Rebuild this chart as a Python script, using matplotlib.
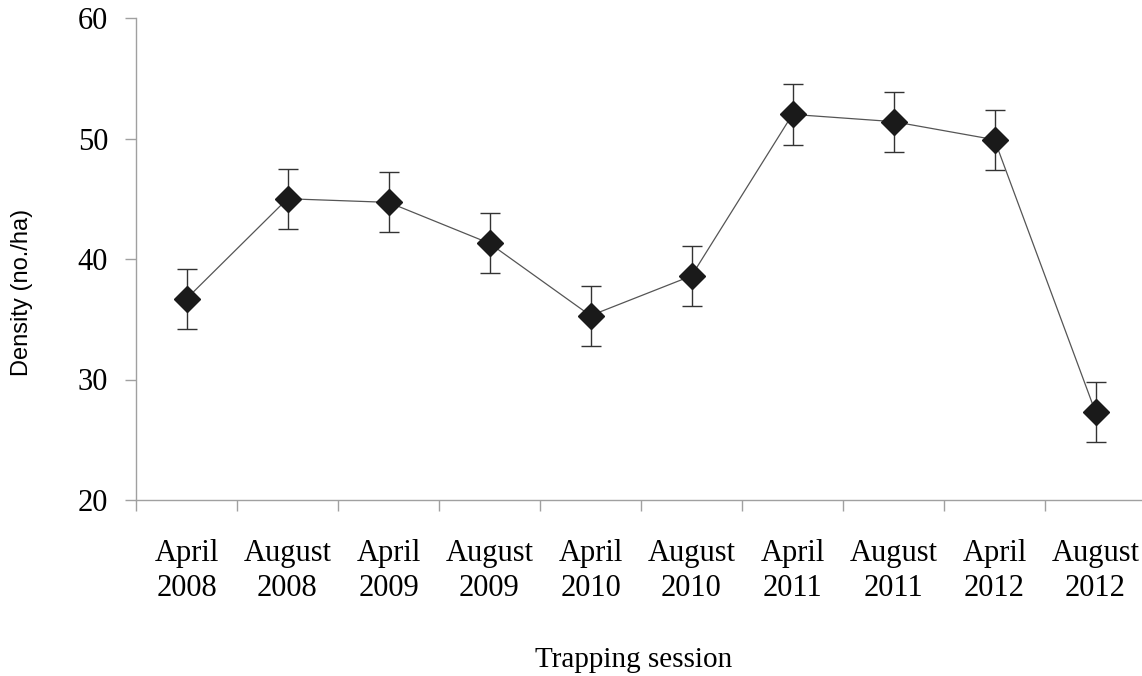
import matplotlib
matplotlib.use("Agg")
from matplotlib import pyplot as plt
import numpy as np

sessions = ["April\n2008", "August\n2008", "April\n2009", "August\n2009", "April\n2010",
            "August\n2010", "April\n2011", "August\n2011", "April\n2012", "August\n2012"]
density = [36.7, 45.0, 44.7, 41.3, 35.3, 38.6, 52.0, 51.4, 49.9, 27.3]
err = [2.5, 2.5, 2.5, 2.5, 2.5, 2.5, 2.5, 2.5, 2.5, 2.5]

fig = plt.figure(figsize=(11.42, 6.76), dpi=100)
ax = fig.add_axes([136/1142, 176/676, 1010/1142, 482/676])

x = np.arange(len(sessions))
ax.errorbar(x, density, yerr=err, fmt="none", ecolor="#333333", elinewidth=1,
            capsize=7, capthick=1)
ax.plot(x, density, color="#555555", lw=0.9)
ax.plot(x, density, ls="none", marker="D", ms=13, color="#1a1a1a")

ax.set_xlim(-0.5, len(sessions) - 0.5)
ax.set_ylim(20, 60)
ax.set_yticks([20, 30, 40, 50, 60])
ax.set_xticks(np.arange(len(sessions) + 1) - 0.5)
ax.set_xticklabels([])
ax.set_xticks(x, minor=True)
ax.set_xticklabels(sessions, minor=True)
for lab in ax.get_xticklabels(minor=True):
    lab.set_fontsize(22)
    lab.set_family("Liberation Serif")
    lab.set_linespacing(1.28)
ax.tick_params(axis="x", which="minor", length=0, pad=28)
ax.tick_params(axis="x", which="major", length=8, color="#a0a0a0", width=1)
ax.tick_params(axis="y", length=8, color="#a0a0a0", width=1, pad=12)
for lab in ax.get_yticklabels():
    lab.set_fontsize(22)
    lab.set_family("Liberation Serif")

for s in ["top", "right"]:
    ax.spines[s].set_visible(False)
for s in ["left", "bottom"]:
    ax.spines[s].set_color("#a0a0a0")
    ax.spines[s].set_linewidth(1)

fig.text(22/1142, 1 - 292/676, "Density (no./ha)", rotation=90, ha="center", va="center",
         fontsize=17, family="Liberation Sans")
fig.text(634/1142, 1 - 660/676, "Trapping session", ha="center", va="center",
         fontsize=21, family="Liberation Serif")

fig.savefig("out.png", dpi=100)
